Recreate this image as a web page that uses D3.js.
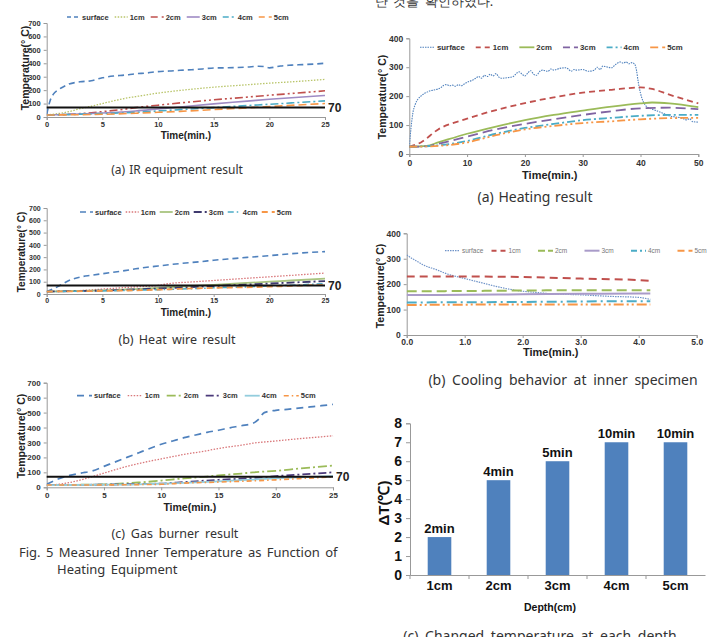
<!DOCTYPE html>
<html>
<head>
<meta charset="utf-8">
<script src="https://cdn.jsdelivr.net/npm/d3@7"></script>
<style>
  body { margin: 0; background: #fff; }
  svg { display: block; }
  .cap { font-family: "Noto Sans", "DejaVu Sans", sans-serif; fill: #333; }
  .ax text { font-family: "Liberation Sans", Arial, sans-serif; font-weight: bold; fill: #333; }
</style>
</head>
<body>
<div id="fig"></div>
<script>
// ---- data (time in min, temperature in deg C) ----
const depthNames = ['surface', '1cm', '2cm', '3cm', '4cm', '5cm'];

// (a) IR equipment
const irSurface = [[0,20],[0.3,120],[0.6,170],[1,200],[1.5,225],[2,245],[3,262],[4,270],[5,292],[6,305],[7,312],[8,322],[9,328],[10,338],[11,342],[12,348],[13,352],[14,358],[15,365],[16,366],[17,368],[18,372],[19,378],[19.5,376],[20,366],[21,380],[22,386],[23,390],[24,394],[25,400]];
const ir1cm = [[0,15],[2,40],[3,62],[4,80],[5,100],[6,120],[7,138],[8,152],[10,178],[12,198],[15,222],[18,240],[20,252],[22,262],[25,280]];
const ir2cm = [[0,15],[3,25],[5,40],[7,58],[8,70],[10,88],[12,105],[15,128],[18,148],[20,162],[22,175],[25,195]];
const ir3cm = [[0,15],[5,30],[8,45],[10,60],[12,75],[15,98],[18,118],[20,132],[22,143],[25,160]];
const ir4cm = [[0,15],[5,25],[8,35],[10,45],[12,55],[15,70],[18,85],[20,95],[22,105],[25,120]];
const ir5cm = [[0,15],[5,20],[8,28],[10,35],[12,42],[15,55],[18,68],[20,78],[22,87],[25,100]];

// (b) Heat wire
const hwSurface = [[0,20],[1,60],[2,110],[3,138],[4,152],[5,165],[7,190],[8,205],[10,228],[12,248],[14,265],[15,275],[17,290],[18,298],[20,312],[22,328],[23,335],[25,345]];
const hw1cm = [[0,20],[3,28],[5,40],[8,58],[10,70],[11,85],[13,98],[15,110],[18,128],[20,140],[22,152],[25,170]];
const hw2cm = [[0,20],[5,30],[8,40],[10,50],[12,60],[15,75],[18,90],[20,100],[22,110],[25,125]];
const hw3cm = [[0,20],[5,28],[10,45],[12,52],[15,65],[18,77],[20,85],[22,93],[25,105]];
const hw4cm = [[0,20],[5,25],[10,35],[12,40],[15,50],[18,58],[20,65],[22,72],[25,85]];
const hw5cm = [[0,20],[5,25],[10,35],[12,42],[15,50],[18,55],[20,60],[22,66],[25,75]];

// (c) Gas burner
const gbSurface = [[0,20],[1,55],[2,80],[3,95],[4,110],[5,140],[6,170],[7,200],[8,230],[9,260],[10,288],[11,310],[12,332],[13,350],[14,368],[15,382],[16,398],[17,412],[18,428],[18.5,455],[19,500],[20,515],[21,522],[22,530],[23,538],[24,546],[25,555]];
const gb1cm = [[0,15],[1,20],[2,32],[3,50],[4,72],[5,95],[6,118],[7,140],[8,158],[9,175],[10,190],[12,220],[14,245],[15,260],[17,282],[18,295],[20,310],[22,325],[24,338],[25,345]];
const gb2cm = [[0,15],[5,20],[7,28],[8,32],[10,45],[12,60],[14,72],[15,80],[17,92],[18,100],[20,110],[22,125],[25,145]];
const gb3cm = [[0,15],[5,18],[8,22],[10,25],[12,35],[15,50],[18,62],[20,75],[22,85],[25,100]];
const gb4cm = [[0,15],[5,17],[8,20],[10,25],[12,30],[15,40],[18,52],[20,60],[22,67],[25,75]];
const gb5cm = [[0,15],[5,16],[8,18],[10,20],[12,28],[15,35],[18,43],[20,50],[22,58],[25,70]];

// right (a) Heating
const htSurface = [[0,25],[0.3,90],[0.6,140],[1,170],[1.5,190],[2,200],[2.5,208],[3,213],[3.5,218],[4,220],[5,225],[5.5,230],[6,238],[6.5,240],[7,236],[7.5,238],[8,234],[8.5,240],[9,236],[9.5,242],[10,248],[11,256],[11.5,262],[12,268],[12.5,262],[13,272],[13.5,268],[14,276],[14.5,270],[15,278],[15.5,266],[16,262],[17,264],[18,268],[18.5,278],[19,284],[19.5,276],[20,270],[20.5,280],[21,288],[21.5,276],[22,272],[22.5,284],[23,290],[24,286],[24.5,294],[25,290],[26,296],[27,298],[27.5,294],[28,286],[28.5,292],[29,290],[30,292],[31,286],[32,290],[32.5,300],[33,292],[33.5,304],[34,302],[35,298],[35.5,306],[36,314],[36.5,318],[37,314],[37.5,318],[38,312],[38.5,316],[39,310],[39.3,290],[39.6,250],[40,210],[40.5,180],[41,165],[42,155],[43,148],[44,140],[45,132],[46,128],[47,125],[48,118],[48.5,122],[49,112],[50,110]];
const ht1cm = [[0,25],[2,40],[5,85],[10,122],[15,152],[20,176],[25,196],[30,212],[35,222],[40,230],[42,225],[45,205],[50,175]];
const ht2cm = [[0,25],[3,28],[5,40],[10,70],[15,95],[20,117],[25,135],[30,150],[35,164],[40,175],[42,178],[45,175],[50,162]];
const ht3cm = [[0,25],[3,27],[5,35],[10,60],[15,85],[20,104],[25,120],[30,135],[35,148],[40,158],[45,160],[50,155]];
const ht4cm = [[0,25],[5,30],[10,45],[15,70],[20,90],[25,104],[30,117],[35,125],[40,132],[45,135],[50,135]];
const ht5cm = [[0,25],[5,28],[10,40],[15,65],[20,85],[25,97],[30,107],[35,113],[40,120],[45,124],[50,125]];

// right (b) Cooling
const clSurface = [[0,315],[0.1,300],[0.2,287],[0.3,274],[0.5,258],[0.7,240],[1,222],[1.3,205],[1.6,188],[1.9,175],[2.2,168],[2.5,162],[3,158],[3.5,152],[4,148],[4.2,140]];
const cl1cm = [[0,230],[1,230],[2,228],[3,222],[4,216],[4.2,213]];
const cl2cm = [[0,172],[1,173],[2,175],[3,176],[4,176],[4.2,176]];
const cl3cm = [[0,157],[1,158],[2,160],[3,162],[4,163],[4.2,163]];
const cl4cm = [[0,128],[2,130],[4,133],[4.2,133]];
const cl5cm = [[0,118],[2,120],[4,120],[4.2,120]];

// right (c) bar chart
const barDepths = ['1cm', '2cm', '3cm', '4cm', '5cm'];
const barDeltaT = [2, 5, 6, 7, 7];
const barTimes = ['2min', '4min', '5min', '10min', '10min'];

const svg = d3.select('#fig').append('svg')
  .attr('width', 709)
  .attr('height', 637);

// line chart helper
function lineChart(cfg) {
  const g = svg.append('g').attr('class', 'ax');
  const x = d3.scaleLinear().domain(cfg.xDomain).range(cfg.xRange);
  const y = d3.scaleLinear().domain(cfg.yDomain).range(cfg.yRange);

  const yAxis = g.append('g')
    .attr('transform', `translate(${cfg.xRange[0]},0)`)
    .call(d3.axisLeft(y).tickValues(cfg.yTicks).tickSize(3).tickPadding(3).tickFormat(cfg.yFmt || d3.format('d')));
  const xAxis = g.append('g')
    .attr('transform', `translate(0,${cfg.yRange[0]})`)
    .call(d3.axisBottom(x).tickValues(cfg.xTicks).tickSize(3).tickPadding(cfg.xPad).tickFormat(cfg.xFmt || d3.format('d')));
  [yAxis, xAxis].forEach(a => {
    a.selectAll('path, line').attr('stroke', '#999');
    a.selectAll('text').style('font-size', cfg.tickSize + 'px');
  });

  const line = d3.line().x(d => x(d[0])).y(d => y(d[1])).curve(d3.curveMonotoneX);
  const clipId = 'clip' + Math.round(cfg.xRange[0]) + Math.round(cfg.yRange[0]);
  g.append('clipPath').attr('id', clipId).append('rect')
    .attr('x', cfg.xRange[0]).attr('y', cfg.yRange[1] - 5)
    .attr('width', cfg.xRange[1] - cfg.xRange[0] + 20).attr('height', cfg.yRange[0] - cfg.yRange[1] + 5);

  cfg.series.forEach((s, i) => {
    g.append('path')
      .datum(s)
      .attr('clip-path', `url(#${clipId})`)
      .attr('fill', 'none')
      .attr('stroke', cfg.colors[i])
      .attr('stroke-width', cfg.widths[i])
      .attr('stroke-dasharray', cfg.dashes[i])
      .attr('d', line);
  });

  if (cfg.ref) {
    g.append('line')
      .attr('x1', x(cfg.xDomain[0])).attr('x2', x(cfg.xDomain[1]))
      .attr('y1', y(cfg.ref)).attr('y2', y(cfg.ref))
      .attr('stroke', '#111').attr('stroke-width', 2);
    g.append('text')
      .attr('x', x(cfg.xDomain[1]) + 3).attr('y', y(cfg.ref) + 4.5)
      .style('font-size', '12px').style('fill', '#222')
      .text(cfg.ref);
  }

  // legend
  let lx = cfg.legendX;
  depthNames.forEach((name, i) => {
    const ly = cfg.legendY;
    g.append('line')
      .attr('x1', lx).attr('x2', lx + cfg.legendLine)
      .attr('y1', ly).attr('y2', ly)
      .attr('stroke', cfg.colors[i])
      .attr('stroke-width', cfg.widths[i])
      .attr('stroke-dasharray', cfg.legendDashes ? cfg.legendDashes[i] : cfg.dashes[i]);
    const t = g.append('text')
      .attr('x', lx + cfg.legendLine + 2).attr('y', ly + cfg.legendFont * 0.35)
      .style('font-size', cfg.legendFont + 'px')
      .text(name);
    if (cfg.legendPlain) t.style('font-weight', 'normal').style('fill', '#777');
    if (cfg.legendStep) lx += cfg.legendStep;
    else lx += cfg.legendLine + 2 + t.node().getComputedTextLength() + cfg.legendGap;
  });

  g.append('text')
    .attr('x', (cfg.xRange[0] + cfg.xRange[1]) / 2 + (cfg.titleShift || 0))
    .attr('y', cfg.xTitleY)
    .attr('text-anchor', 'middle')
    .style('font-size', cfg.titleSize + 'px')
    .style('fill', '#222')
    .text('Time(min.)');
  g.append('text')
    .attr('transform', `translate(${cfg.yTitleX},${cfg.yTitleY}) rotate(-90)`)
    .attr('text-anchor', 'middle')
    .style('font-size', cfg.yTitleSize + 'px')
    .style('fill', '#222')
    .text('Temperature(\u00b0 C)');
}

const leftTicks = d3.range(0, 701, 100);
const minTicks = [0, 5, 10, 15, 20, 25];

// (a) IR equipment
lineChart({
  xDomain: [0, 25], xRange: [46.7, 325], yDomain: [0, 700], yRange: [117, 23],
  xTicks: minTicks, yTicks: leftTicks, tickSize: 7.5, xPad: 1.5,
  series: [irSurface, ir1cm, ir2cm, ir3cm, ir4cm, ir5cm],
  colors: ['#4F81BD', '#B9C56A', '#C0504D', '#9F8BC4', '#4BACC6', '#F79646'],
  widths: [1.6, 1.3, 1.6, 1.6, 1.6, 1.6],
  dashes: ['6,4', '1.5,1.5', '8,3,2,3,2,3', null, '8,3,2,3', '8,4'],
  legendDashes: ['4,3', '1.5,1.5', '7,4', null, '6,3,2,3', '6,4'],
  ref: 70,
  legendX: 67, legendY: 17, legendLine: 13, legendGap: 6, legendFont: 7.5,
  xTitleY: 139, titleSize: 10,
  yTitleX: 29, yTitleY: 68, yTitleSize: 10.5
});

// (b) Heat wire
lineChart({
  xDomain: [0, 25], xRange: [46.7, 325], yDomain: [0, 700], yRange: [294, 208],
  xTicks: minTicks, yTicks: leftTicks, tickSize: 7, xPad: 1.5,
  series: [hwSurface, hw1cm, hw2cm, hw3cm, hw4cm, hw5cm],
  colors: ['#4F81BD', '#D9777A', '#A9C47F', '#3F3A6E', '#4BACC6', '#F79646'],
  widths: [1.6, 1.3, 1.8, 1.8, 1.5, 1.8],
  dashes: ['6,4', '1.5,1.5', null, '8,3,2,3', '6,3,1.5,3', '6,4'],
  ref: 70,
  legendX: 80, legendY: 212, legendLine: 13, legendGap: 4, legendFont: 7.5,
  xTitleY: 316, titleSize: 10,
  yTitleX: 25, yTitleY: 252, yTitleSize: 10
});

// (c) Gas burner
lineChart({
  xDomain: [0, 25], xRange: [46.7, 333], yDomain: [0, 700], yRange: [487.3, 382.7],
  xTicks: minTicks, yTicks: leftTicks, tickSize: 8, xPad: 2,
  series: [gbSurface, gb1cm, gb2cm, gb3cm, gb4cm, gb5cm],
  colors: ['#4F81BD', '#D9777A', '#9BBB59', '#4B3A7A', '#93CDDD', '#F79646'],
  widths: [1.7, 1.3, 1.8, 1.8, 1.8, 1.6],
  dashes: ['7,5', '1.5,1.5', '9,3,2,3', '8,3,2,3', null, '5,3,1.5,3'],
  ref: 70,
  legendX: 77, legendY: 395.7, legendLine: 15, legendGap: 7, legendFont: 7.5,
  xTitleY: 511, titleSize: 10.5,
  yTitleX: 25, yTitleY: 436, yTitleSize: 10.5
});

// right (a) Heating
lineChart({
  xDomain: [0, 50], xRange: [409.3, 698.3], yDomain: [0, 400], yRange: [154, 38.3],
  xTicks: [0, 10, 20, 30, 40, 50], yTicks: [0, 100, 200, 300, 400], tickSize: 8.5, xPad: 3,
  series: [htSurface, ht1cm, ht2cm, ht3cm, ht4cm, ht5cm],
  colors: ['#4F81BD', '#C0504D', '#9BBB59', '#8064A2', '#4BACC6', '#F79646'],
  widths: [1.1, 1.8, 1.8, 1.8, 1.8, 1.8],
  dashes: ['1.5,1', '6,4', null, '10,5', '8,3,2,3', '8,3,2,3,2,3'],
  legendDashes: ['1.5,1', '5,4', null, '7,4', '6,3,2,3', '8,4'],
  legendX: 420, legendY: 47.3, legendLine: 15, legendGap: 11, legendFont: 7.8,
  xTitleY: 179, titleSize: 11, titleShift: -4,
  yTitleX: 386, yTitleY: 97, yTitleSize: 10.5
});

// right (b) Cooling
lineChart({
  xDomain: [0, 5], xRange: [406.7, 696.7], yDomain: [0, 400], yRange: [335, 233.3],
  xTicks: [0, 1, 2, 3, 4, 5], yTicks: [0, 100, 200, 300, 400], tickSize: 8.5, xPad: 1,
  xFmt: d3.format('.1f'),
  series: [clSurface, cl1cm, cl2cm, cl3cm, cl4cm, cl5cm],
  colors: ['#6F93C8', '#C0504D', '#9BBB59', '#A99BC9', '#4BACC6', '#F79646'],
  widths: [1.2, 2, 2, 2, 2, 2],
  dashes: ['1.5,1', '8,5', '10,5', null, '10,4,2,4', '10,3,2,3,2,3'],
  legendDashes: ['1.5,1', '5,4', '7,3', null, '6,3,2,3', '7,4'],
  legendPlain: true, legendStep: 46.5,
  legendX: 445, legendY: 250.7, legendLine: 15, legendFont: 6.5,
  xTitleY: 356, titleSize: 11, titleShift: -1,
  yTitleX: 384, yTitleY: 286, yTitleSize: 10.5
});

// right (c) bar chart
{
  const g = svg.append('g').attr('class', 'ax');
  const x = d3.scaleBand().domain(barDepths).range([410, 705]).paddingInner(0.6).paddingOuter(0.3);
  const y = d3.scaleLinear().domain([0, 8]).range([575, 423.3]);

  const yAxis = g.append('g').attr('transform', 'translate(410,0)')
    .call(d3.axisLeft(y).ticks(8).tickSize(4).tickPadding(4));
  const xAxis = g.append('g').attr('transform', 'translate(0,575)')
    .call(d3.axisBottom(x).tickSize(0).tickPadding(6));
  [yAxis, xAxis].forEach(a => a.selectAll('path, line').attr('stroke', '#999'));
  yAxis.selectAll('text').style('font-size', '14px').style('fill', '#111');
  xAxis.selectAll('text').style('font-size', '13px').style('fill', '#111');
  // category separators on x axis
  g.selectAll('.sep').data(barDepths).join('line')
    .attr('x1', d => x(d) - x.step() * 0.3).attr('x2', d => x(d) - x.step() * 0.3)
    .attr('y1', 575).attr('y2', 579).attr('stroke', '#999');

  g.selectAll('.bar').data(barDeltaT).join('rect')
    .attr('x', (d, i) => x(barDepths[i]))
    .attr('y', d => y(d))
    .attr('width', x.bandwidth())
    .attr('height', d => 575 - y(d))
    .attr('fill', '#4F81BD');
  g.selectAll('.lbl').data(barDeltaT).join('text')
    .attr('x', (d, i) => x(barDepths[i]) + x.bandwidth() / 2)
    .attr('y', d => y(d) - 4)
    .attr('text-anchor', 'middle')
    .style('font-size', '13px').style('fill', '#111')
    .text((d, i) => barTimes[i]);

  g.append('text').attr('x', 550).attr('y', 611).attr('text-anchor', 'middle')
    .style('font-size', '10.5px').style('fill', '#111').text('Depth(cm)');
  g.append('text').attr('transform', 'translate(389,503) rotate(-90)')
    .attr('text-anchor', 'middle').style('font-size', '15px').style('fill', '#111')
    .text('\u0394T(\u2103)');
}

// captions: text, x, y, anchor, font size, word spacing
const caps = [
  ['(a) IR equipment result', 177, 174, 'middle', 12, 1],
  ['(b) Heat wire result', 177, 344, 'middle', 12.5, 2],
  ['(c) Gas burner result', 175, 538, 'middle', 12.5, 2.5],
  ['Fig. 5 Measured Inner Temperature as Function of', 19, 557, 'start', 13, 2],
  ['Heating Equipment', 57, 574, 'start', 13, 2],
  ['(a) Heating result', 535, 202, 'middle', 14, 1],
  ['(b) Cooling behavior at inner specimen', 563, 385, 'middle', 14, 3],
  ['(c) Changed temperature at each depth', 540, 641, 'middle', 14, 3],
  ['\ub09c \uac83\uc744 \ud655\uc778\ud558\uc600\ub2e4.', 375, 6, 'start', 13, 2]
];
caps.forEach(c => {
  svg.append('text').attr('class', 'cap')
    .attr('x', c[1]).attr('y', c[2])
    .attr('text-anchor', c[3])
    .style('font-size', c[4] + 'px')
    .style('word-spacing', c[5] + 'px')
    .text(c[0]);
});
</script>
</body>
</html>
